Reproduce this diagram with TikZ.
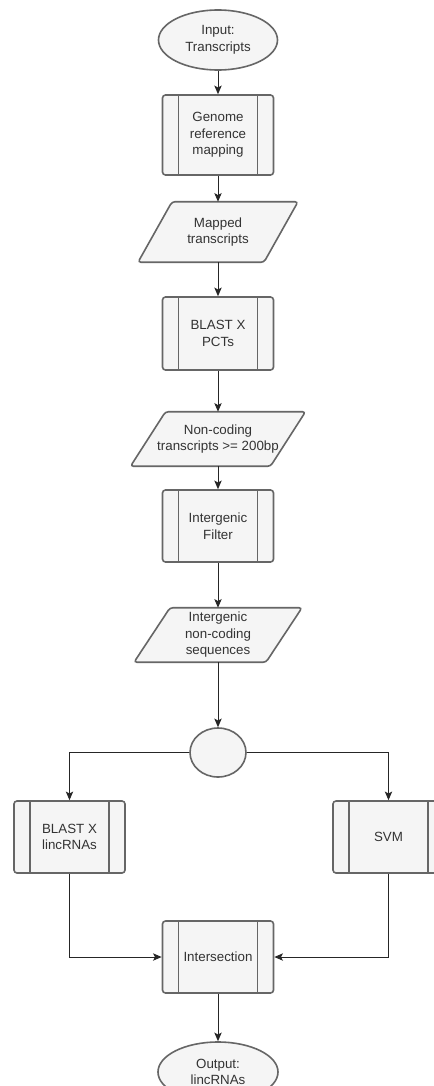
\documentclass[tikz,border=0pt]{standalone}
\usepackage{fontspec}
\setmainfont{Liberation Sans}
\usetikzlibrary{shapes.geometric,arrows.meta,calc,backgrounds}
\definecolor{fillc}{HTML}{F5F5F5}
\definecolor{strokec}{HTML}{666666}
\definecolor{textc}{HTML}{333333}
\newcommand{\parashape}[3]{%
  \draw[shapeline, rounded corners=2.25pt]
    ($(#1.north)+({-#2+#3/2},0)$) -- ($(#1.north)+({#2+#3/2},0)$) --
    ($(#1.south)+({#2-#3/2},0)$) -- ($(#1.south)+({-#2-#3/2},0)$) -- cycle;}
\begin{document}
\begin{tikzpicture}[x=0.75pt,y=-0.75pt,
  base/.style={font=\fontsize{10}{12.4}\selectfont, text=textc, align=center, inner sep=0pt},
  shapeline/.style={draw=strokec, line width=1.2pt, fill=fillc},
  proc/.style={base, shapeline, rectangle, rounded corners=2.25pt,
    minimum width=83.25pt, minimum height=54pt,
    path picture={\draw[strokec, line width=1.2pt]
      ([xshift=12pt]path picture bounding box.north west) -- ([xshift=12pt]path picture bounding box.south west)
      ([xshift=-12pt]path picture bounding box.north east) -- ([xshift=-12pt]path picture bounding box.south east);}},
  term/.style={base, shapeline, ellipse, minimum width=89.25pt, minimum height=45pt},
  io/.style={base, rectangle, minimum width=60pt, minimum height=40.5pt},
  conn/.style={draw=black!85, line width=0.75pt, -{Stealth[length=6.5pt,width=5.5pt,inset=1.5pt]}}
]
\useasboundingbox (0,0) rectangle (434,1086);

\node[term] (in) at (218,40) {Input:\\Transcripts};
\node[proc, minimum height=60pt] (genome) at (218,135) {Genome\\reference\\mapping};
\node[io, minimum height=45pt] (mapped) at (218,232) {Mapped\\transcripts};
\node[proc, minimum height=54.75pt] (pcts) at (218,333.5) {BLAST X\\PCTs};
\node[io] (noncod) at (218,439) {Non-coding\\transcripts >= 200bp};
\node[proc] (filter) at (218,526) {Intergenic\\Filter};
\node[io] (inter) at (218,635) {Intergenic\\non-coding\\sequences};
\node[base, shapeline, ellipse, minimum width=42pt, minimum height=36.75pt] (circ) at (218,752.5) {};
\node[proc] (linc) at (69.5,837) {BLAST X\\lincRNAs};
\node[proc] (svm) at (388.5,837) {SVM};
\node[proc] (isect) at (218,957) {Intersection};
\node[term, minimum width=90pt] (out) at (218,1072) {Output:\\lincRNAs};

\begin{scope}[on background layer]
  \fill[white] (0,0) rectangle (434,1086);
  \parashape{mapped}{63}{34}
  \parashape{noncod}{70}{35}
  \parashape{inter}{66}{36}
\end{scope}

\draw[conn] (in.south) -- (genome.north);
\draw[conn] (genome.south) -- (mapped.north);
\draw[conn] (mapped.south) -- (pcts.north);
\draw[conn] (pcts.south) -- (noncod.north);
\draw[conn] (noncod.south) -- (filter.north);
\draw[conn] (filter.south) -- (inter.north);
\draw[conn] (inter.south) -- (circ.north);
\draw[conn] (circ.west) -| (linc.north);
\draw[conn] (circ.east) -| (svm.north);
\draw[conn] (linc.south) |- (isect.west);
\draw[conn] (svm.south) |- (isect.east);
\draw[conn] (isect.south) -- (out.north);
\end{tikzpicture}
\end{document}
